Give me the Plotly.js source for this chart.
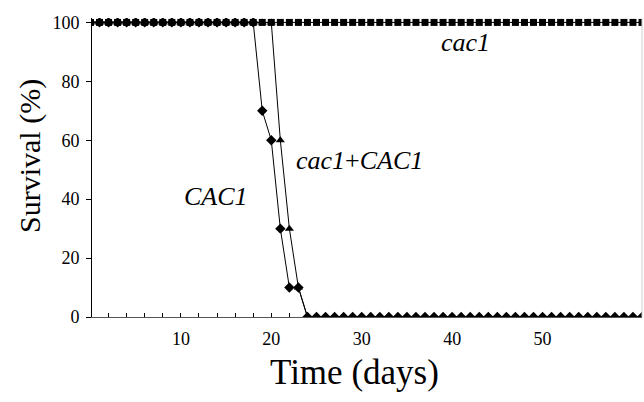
<!DOCTYPE html>
<html><head><meta charset="utf-8">
<script src="https://cdn.plot.ly/plotly-3.0.1.min.js"></script>
<style>body{margin:0;background:#fff}#c{width:644px;height:402px}</style>
</head><body><div id="c"></div>
<script>
var days = [0,1,2,3,4,5,6,7,8,9,10,11,12,13,14,15,16,17,18,19,20,21,22,23,24,25,26,27,28,29,30,31,32,33,34,35,36,37,38,39,40,41,42,43,44,45,46,47,48,49,50,51,52,53,54,55,56,57,58,59,60,61];
var cac1 = [100,100,100,100,100,100,100,100,100,100,100,100,100,100,100,100,100,100,100,100,100,100,100,100,100,100,100,100,100,100,100,100,100,100,100,100,100,100,100,100,100,100,100,100,100,100,100,100,100,100,100,100,100,100,100,100,100,100,100,100,100,100];
var CAC1 = [100,100,100,100,100,100,100,100,100,100,100,100,100,100,100,100,100,100,100,70,60,30,10,10,0,0,0,0,0,0,0,0,0,0,0,0,0,0,0,0,0,0,0,0,0,0,0,0,0,0,0,0,0,0,0,0,0,0,0,0,0,0];
var cac1CAC1 = [100,100,100,100,100,100,100,100,100,100,100,100,100,100,100,100,100,100,100,100,100,60,30,10,0,0,0,0,0,0,0,0,0,0,0,0,0,0,0,0,0,0,0,0,0,0,0,0,0,0,0,0,0,0,0,0,0,0,0,0,0,0];
var xTickVals = [2,4,6,8,10,12,14,16,18,20,22,24,26,28,30,32,34,36,38,40,42,44,46,48,50,52,54,56,58,60];
var xTickText = ['','','','','10','','','','','20','','','','','30','','','','','40','','','','','50','','','','',''];
var yTickVals = [0,20,40,60,80,100];

var serif = '"Liberation Serif"';
var line = {color:'#000', width:1};
var traces = [
  {x:days, y:cac1CAC1, mode:'lines+markers', line:line, marker:{symbol:'triangle-up', size:8, color:'#000'}, name:'cac1+CAC1'},
  {x:days, y:CAC1, mode:'lines+markers', line:line, marker:{symbol:'diamond', size:8, color:'#000'}, name:'CAC1'},
  {x:days, y:cac1, mode:'lines+markers', line:line, marker:{symbol:'square', size:7, color:'#000'}, name:'cac1'}
];
var layout = {
  width:644, height:402,
  margin:{l:92, r:2, t:18, b:85},
  paper_bgcolor:'#fff', plot_bgcolor:'#fff',
  showlegend:false,
  font:{family:serif, color:'#000'},
  xaxis:{range:[0.17,61], showgrid:false, zeroline:false, showline:true, linecolor:'#555', linewidth:1,
    ticks:'inside', ticklen:4, tickcolor:'#000', tickvals:xTickVals, ticktext:xTickText,
    tickfont:{family:serif, size:18, color:'#000'}, ticklabelstandoff:5},
  yaxis:{range:[0,101.5], showgrid:false, zeroline:false, showline:true, linecolor:'#000', linewidth:1,
    ticks:'outside', ticklen:5, tickcolor:'#000', tickvals:yTickVals,
    tickfont:{family:serif, size:18, color:'#000'}, ticklabelstandoff:3},
  shapes:[{type:'line', xref:'paper', yref:'paper', x0:1, x1:1, y0:0, y1:1, line:{color:'#ccc', width:1}}],
  annotations:[
    {x:41.5, y:93.2, xref:'x', yref:'y', text:'<i>cac1</i>', showarrow:false, font:{family:serif, size:26, color:'#000'}},
    {x:29.7, y:53.2, xref:'x', yref:'y', text:'<i>cac1</i>+<i>CAC1</i>', showarrow:false, font:{family:serif, size:26, color:'#000'}},
    {x:13.9, y:41, xref:'x', yref:'y', text:'<i>CAC1</i>', showarrow:false, font:{family:serif, size:26, color:'#000'}},
    {x:0, y:0, xref:'paper', yref:'paper', xanchor:'center', yanchor:'middle', text:'Time (days)', showarrow:false, font:{family:serif, size:35, color:'#000'}},
    {x:0, y:0, xref:'paper', yref:'paper', xanchor:'center', yanchor:'middle', text:'Survival (%)', textangle:-90, showarrow:false, font:{family:serif, size:30, color:'#000'}}
  ]
};
// convert pixel positions of the title annotations to paper coordinates
var pw = 644-92-2, ph = 402-18-85;
layout.annotations[3].x = (354-92)/pw; layout.annotations[3].y = (402-85-372)/ph;
layout.annotations[4].x = (30-92)/pw; layout.annotations[4].y = (402-85-156)/ph;
Plotly.newPlot('c', traces, layout, {staticPlot:true});
</script></body></html>
